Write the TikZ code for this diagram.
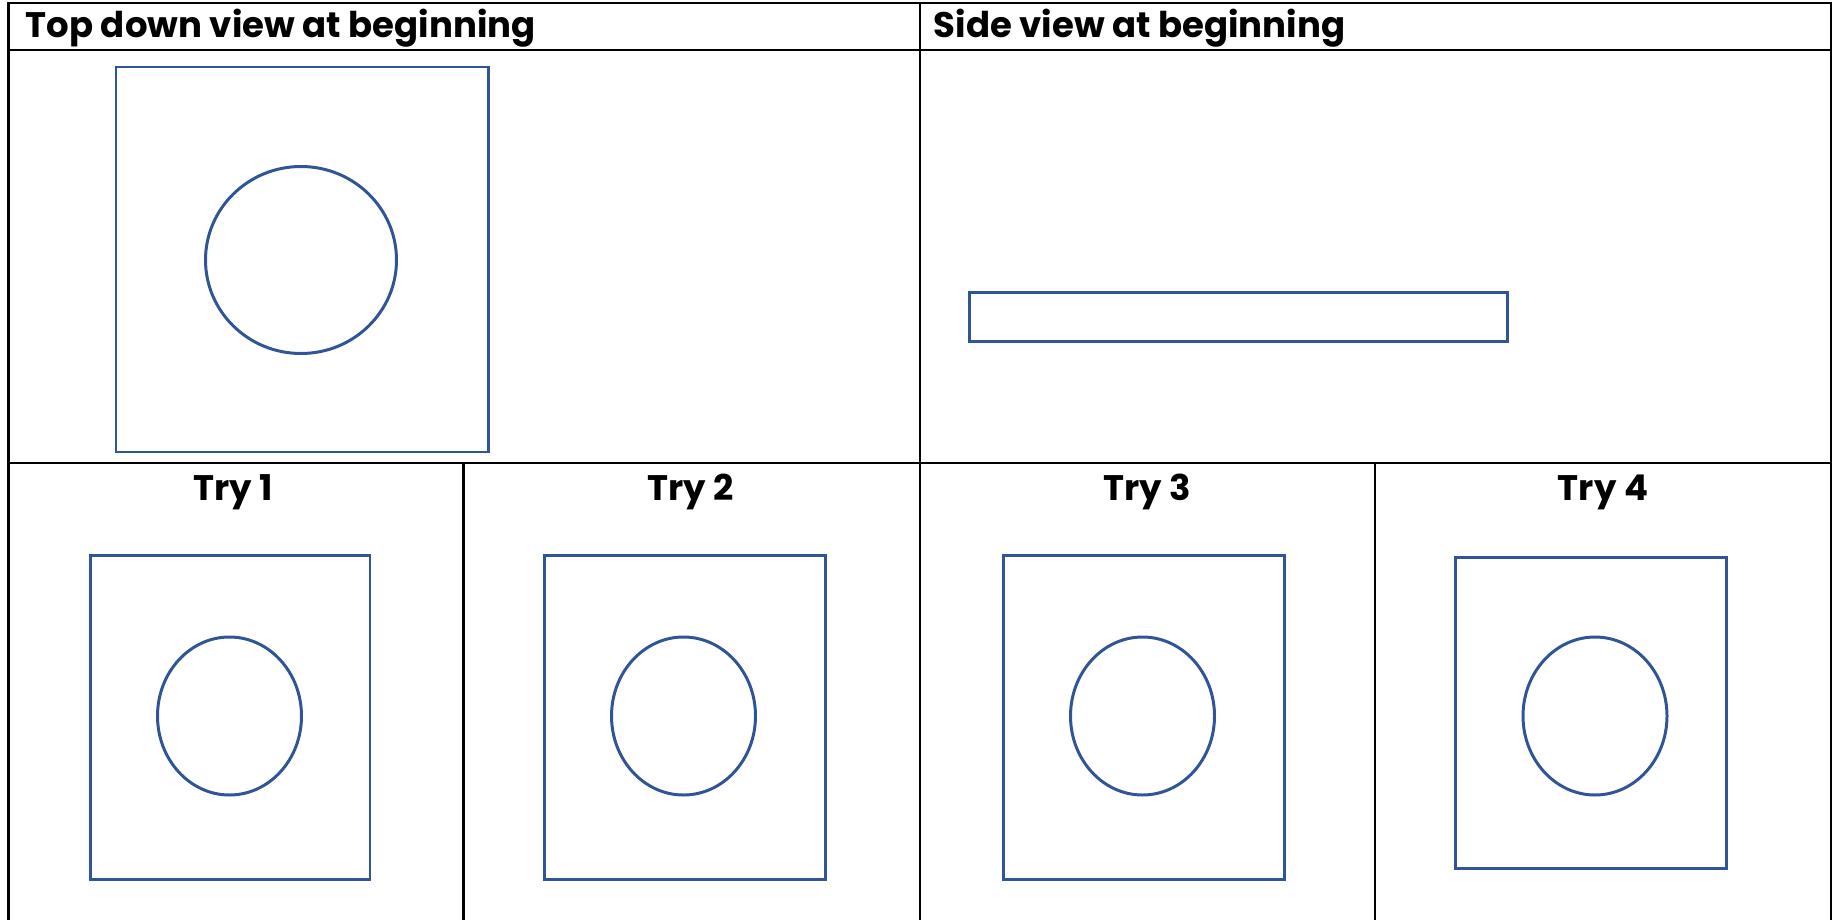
\documentclass[tikz,border=0pt]{standalone}
\usepackage{fontspec}
\setmainfont{Poppins}
\usetikzlibrary{positioning}
\definecolor{shapeblue}{HTML}{2F5597}
\definecolor{ruleblack}{HTML}{000000}
\tikzset{
  gridline/.style={ruleblack,line width=.7pt},
  outline/.style={shapeblue,line width=.85pt},
  headtext/.style={font=\bfseries\fontsize{10.1}{12}\selectfont,inner sep=0pt},
}

\begin{document}
\begin{tikzpicture}[x=.1mm,y=-.1mm]
% one unit = one pixel of the 1840x920 sheet, y going down
\useasboundingbox (0,0) rectangle (1840,920);
% table rules, open at the bottom
\draw[gridline] (8.5,920)--(8.5,3)--(1831,3)--(1831,920);
\draw[gridline] (8.5,50)--(1831,50);
\draw[gridline] (8.5,463)--(1831,463);
\draw[gridline] (920,3)--(920,920);
\draw[gridline] (463.5,463)--(463.5,920) (1375,463)--(1375,920);
\node[headtext,anchor=west] (topHead) at (25,28) {Top down view at beginning};
\node[headtext,anchor=west] (sideHead) at (933,28) {Side view at beginning};
% top down view
\draw[outline] (116,67) rectangle (488,452);
\draw[outline] (301,260) ellipse [x radius=95.5,y radius=93.5];
% side view
\draw[outline] (969.5,292.5) rectangle (1507,341.5);
% the four tries
\foreach \k/\cx/\xl/\xr/\yt/\yb/\ex in {1/233/90.5/370/555/879/229.5,
    2/691/544.5/825/555/879/683.5,
    3/1147.5/1003.5/1284/555/879/1142.5,
    4/1603/1455.5/1726/557/868/1595} {
  \node[headtext] (try\k) at (\cx,492) {Try \k};
  \draw[outline] (\xl,\yt) rectangle (\xr,\yb);
  \draw[outline] (\ex,716) ellipse [x radius=72,y radius=79];
}
\end{tikzpicture}
\end{document}
